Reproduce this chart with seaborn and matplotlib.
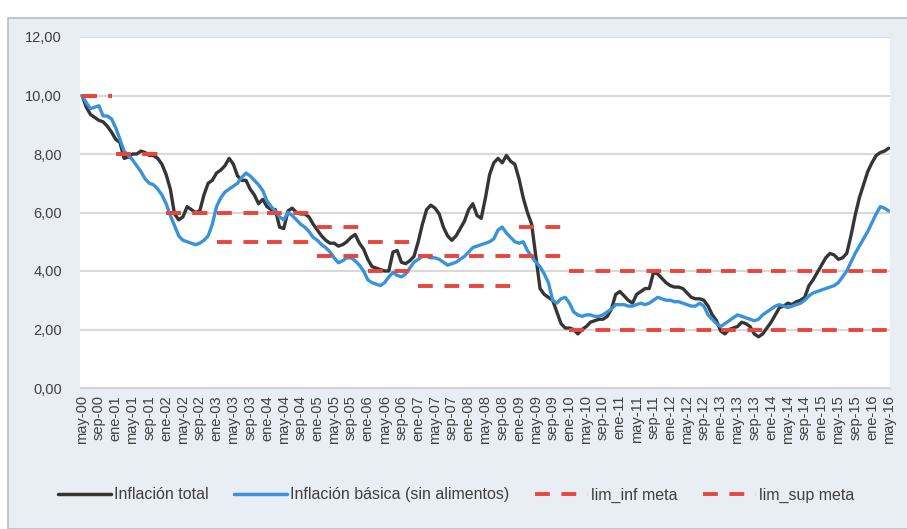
import numpy as np
import pandas as pd
import matplotlib
matplotlib.use("Agg")
import matplotlib.pyplot as plt
import seaborn as sns
from matplotlib.patches import Rectangle
from matplotlib.lines import Line2D

# fechas mensuales may-00 .. may-16
meses = ["ene", "feb", "mar", "abr", "may", "jun", "jul", "ago", "sep", "oct", "nov", "dic"]
fechas = [f"{meses[(4 + i) % 12]}-{(4 + i) // 12:02d}" for i in range(193)]

# inflacion total (%), por año
total_2000 = [10.0, 9.6, 9.35, 9.25, 9.15, 9.1, 8.95, 8.75]
total_2001 = [8.5, 8.4, 7.85, 7.9, 8.0, 8.0, 8.1, 8.05, 7.95, 7.95, 7.85, 7.65]
total_2002 = [7.3, 6.8, 5.95, 5.75, 5.85, 6.2, 6.1, 6.0, 6.05, 6.6, 7.0, 7.1]
total_2003 = [7.35, 7.45, 7.6, 7.85, 7.65, 7.25, 7.1, 7.1, 6.8, 6.6, 6.3, 6.45]
total_2004 = [6.2, 6.1, 6.1, 5.5, 5.45, 6.05, 6.15, 6.0, 5.95, 5.95, 5.85, 5.6]
total_2005 = [5.4, 5.2, 5.05, 4.95, 4.95, 4.85, 4.9, 5.0, 5.15, 5.25, 4.95, 4.75]
total_2006 = [4.4, 4.15, 4.1, 4.05, 4.0, 4.0, 4.65, 4.7, 4.3, 4.25, 4.35, 4.5]
total_2007 = [5.0, 5.6, 6.1, 6.25, 6.15, 5.95, 5.5, 5.2, 5.05, 5.2, 5.45, 5.7]
total_2008 = [6.1, 6.3, 5.9, 5.8, 6.5, 7.3, 7.7, 7.85, 7.7, 7.95, 7.75, 7.65]
total_2009 = [7.15, 6.5, 6.0, 5.6, 4.5, 3.4, 3.2, 3.1, 3.0, 2.6, 2.2, 2.05]
total_2010 = [2.05, 2.0, 1.85, 2.0, 2.1, 2.25, 2.3, 2.35, 2.35, 2.45, 2.7, 3.2]
total_2011 = [3.3, 3.15, 3.0, 2.9, 3.2, 3.3, 3.4, 3.4, 3.95, 3.9, 3.75, 3.6]
total_2012 = [3.5, 3.45, 3.45, 3.4, 3.25, 3.1, 3.05, 3.05, 3.0, 2.8, 2.5, 2.3]
total_2013 = [1.95, 1.85, 2.0, 2.05, 2.1, 2.25, 2.2, 2.1, 1.85, 1.75, 1.85, 2.05]
total_2014 = [2.25, 2.5, 2.75, 2.8, 2.9, 2.85, 2.95, 3.0, 3.1, 3.5, 3.7, 3.95]
total_2015 = [4.2, 4.45, 4.6, 4.55, 4.4, 4.45, 4.6, 5.2, 5.9, 6.5, 6.95, 7.4]
total_2016 = [7.7, 7.95, 8.05, 8.1, 8.2]

# inflacion basica sin alimentos (%), por año
basica_2000 = [10.0, 9.75, 9.55, 9.6, 9.65, 9.3, 9.3, 9.2]
basica_2001 = [8.9, 8.5, 8.1, 7.95, 7.8, 7.6, 7.4, 7.15, 7.0, 6.95, 6.8, 6.6]
basica_2002 = [6.3, 5.9, 5.55, 5.2, 5.05, 5.0, 4.95, 4.9, 4.95, 5.05, 5.2, 5.6]
basica_2003 = [6.2, 6.5, 6.7, 6.8, 6.9, 7.0, 7.2, 7.35, 7.25, 7.1, 6.95, 6.75]
basica_2004 = [6.4, 6.2, 6.05, 5.85, 5.75, 6.0, 5.9, 5.75, 5.6, 5.5, 5.35, 5.15]
basica_2005 = [5.05, 4.9, 4.8, 4.65, 4.45, 4.28, 4.35, 4.45, 4.45, 4.35, 4.2, 4.0]
basica_2006 = [3.7, 3.6, 3.55, 3.5, 3.6, 3.8, 3.95, 3.85, 3.8, 3.9, 4.1, 4.3]
basica_2007 = [4.4, 4.5, 4.5, 4.45, 4.45, 4.4, 4.3, 4.2, 4.25, 4.3, 4.4, 4.5]
basica_2008 = [4.65, 4.8, 4.85, 4.9, 4.95, 5.0, 5.1, 5.4, 5.5, 5.3, 5.15, 5.0]
basica_2009 = [4.95, 5.0, 4.7, 4.5, 4.3, 4.15, 3.9, 3.6, 3.0, 2.9, 3.05, 3.1]
basica_2010 = [2.9, 2.6, 2.5, 2.45, 2.5, 2.5, 2.45, 2.45, 2.5, 2.6, 2.7, 2.85]
basica_2011 = [2.85, 2.85, 2.8, 2.8, 2.85, 2.9, 2.85, 2.9, 3.0, 3.1, 3.05, 3.0]
basica_2012 = [3.0, 2.95, 2.95, 2.9, 2.85, 2.8, 2.8, 2.9, 2.8, 2.5, 2.35, 2.2]
basica_2013 = [2.1, 2.2, 2.3, 2.4, 2.5, 2.45, 2.4, 2.35, 2.3, 2.35, 2.5, 2.6]
basica_2014 = [2.7, 2.8, 2.85, 2.8, 2.75, 2.8, 2.85, 2.9, 3.0, 3.15, 3.25, 3.3]
basica_2015 = [3.35, 3.4, 3.45, 3.5, 3.6, 3.8, 4.0, 4.3, 4.6, 4.85, 5.1, 5.35]
basica_2016 = [5.65, 5.95, 6.2, 6.15, 6.05]

# rango meta por año 2000..2016
anios = list(range(2000, 2017))
meses_por_anio = [8] + [12] * 15 + [5]
meta_inf_anual = [10, 8, 6, 5, 5, 4.5, 4, 3.5, 3.5, 4.5, 2, 2, 2, 2, 2, 2, 2]
meta_sup_anual = [10, 8, 6, 6, 6, 5.5, 5, 4.5, 4.5, 5.5, 4, 4, 4, 4, 4, 4, 4]

total = (total_2000 + total_2001 + total_2002 + total_2003 + total_2004 + total_2005
         + total_2006 + total_2007 + total_2008 + total_2009 + total_2010 + total_2011
         + total_2012 + total_2013 + total_2014 + total_2015 + total_2016)
basica = (basica_2000 + basica_2001 + basica_2002 + basica_2003 + basica_2004 + basica_2005
          + basica_2006 + basica_2007 + basica_2008 + basica_2009 + basica_2010 + basica_2011
          + basica_2012 + basica_2013 + basica_2014 + basica_2015 + basica_2016)

df = pd.DataFrame({
    "t": np.arange(len(fechas)),
    "fecha": fechas,
    "anio": np.repeat(anios, meses_por_anio),
    "total": total,
    "basica": basica,
    "lim_inf": np.repeat(meta_inf_anual, meses_por_anio),
    "lim_sup": np.repeat(meta_sup_anual, meses_por_anio),
})

sns.set_style("white")
plt.rcParams["font.family"] = ["Liberation Sans", "DejaVu Sans"]

bg = "#e9edf4"
fig = plt.figure(figsize=(9.07, 5.29), dpi=100, facecolor=bg)
fig.patches.append(Rectangle((0, 1 - 18 / 529), 1, 18 / 529, transform=fig.transFigure,
                             facecolor="white", edgecolor="none", zorder=0))
fig.patches.append(Rectangle((0, 0), 8 / 907, 1, transform=fig.transFigure,
                             facecolor="white", edgecolor="none", zorder=0))
fig.patches.append(Rectangle((8 / 907, 0), 1, 1 - 18 / 529, transform=fig.transFigure,
                             facecolor="none", edgecolor="#b8bcc4", lw=1.2, zorder=1))

ax = fig.add_axes([80 / 907, 1 - 388 / 529, 810 / 907, 351 / 529])
ax.set_facecolor("white")

negro = "#353535"
azul = "#3a92d8"
rojo = "#e8453c"
guion = (0, (3.8, 3.0))

sns.lineplot(data=df, x="t", y="total", ax=ax, color=negro, lw=2.4, zorder=3)
sns.lineplot(data=df, x="t", y="basica", ax=ax, color=azul, lw=2.4, zorder=3)
# un tramo por año, sin unir los cambios de meta
sns.lineplot(data=df, x="t", y="lim_inf", units="anio", estimator=None, ax=ax,
             color=rojo, lw=2.8, linestyle=guion, zorder=4)
sns.lineplot(data=df, x="t", y="lim_sup", units="anio", estimator=None, ax=ax,
             color=rojo, lw=2.8, linestyle=guion, zorder=4)

ax.set_ylim(0, 12)
ax.set_xlim(-0.5, 192.3)
ax.set_yticks(np.arange(0, 13, 2))
ax.set_yticklabels([f"{v:.2f}".replace(".", ",") for v in np.arange(0, 13, 2)],
                   fontsize=10.5, color="#404040")
ax.set_xticks(df["t"][::4])
ax.set_xticklabels(df["fecha"][::4], rotation=90, fontsize=10.5, color="#404040")
ax.grid(axis="y", color="#d9d9d9", lw=1.5)
ax.set_xlabel("")
ax.set_ylabel("")
for s in ["top", "right", "left"]:
    ax.spines[s].set_visible(False)
ax.spines["bottom"].set_color("#d0d0d0")
ax.tick_params(axis="x", length=3, color="#c8c8c8", pad=2)
ax.tick_params(axis="y", length=0, pad=13)

handles = [
    Line2D([], [], color=negro, lw=2.5),
    Line2D([], [], color=azul, lw=2.5),
    Line2D([], [], color=rojo, lw=2.8, linestyle=guion),
    Line2D([], [], color=rojo, lw=2.8, linestyle=guion),
]
labels = ["Inflación total", "Inflación básica (sin alimentos)", "lim_inf meta", "lim_sup meta"]
fig.legend(handles, labels, loc="center", bbox_to_anchor=(0.503, 1 - 495 / 529), ncol=4,
           frameon=False, fontsize=11.5, handlelength=3.3, handletextpad=0.2,
           columnspacing=1.6, labelcolor="#404040")

fig.savefig("out.png", dpi=100, facecolor=bg)
